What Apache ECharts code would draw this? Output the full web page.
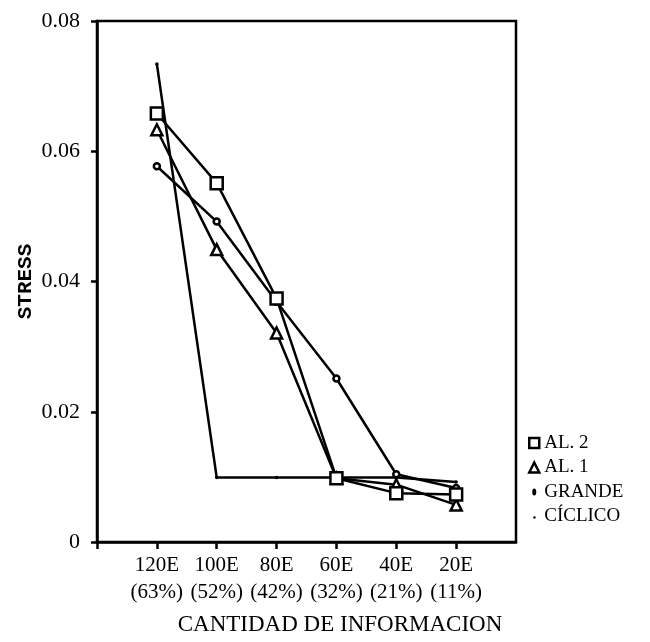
<!DOCTYPE html>
<html>
<head>
<meta charset="utf-8">
<script src="https://cdn.jsdelivr.net/npm/echarts@6/dist/echarts.min.js"></script>
<style>
html,body{margin:0;padding:0;background:#fff;}
#chart{width:650px;height:642px;}
</style>
</head>
<body>
<div id="chart"></div>
<script>
const categories = ['120E', '100E', '80E', '60E', '40E', '20E'];
const percents = ['(63%)', '(52%)', '(42%)', '(32%)', '(21%)', '(11%)'];
const al2 = [0.0658, 0.0551, 0.0374, 0.0098, 0.0075, 0.0073];
const al1 = [0.0633, 0.0449, 0.0321, 0.0098, 0.0088, 0.0057];
const grande = [0.0577, 0.0492, 0.0369, 0.0251, 0.0104, 0.0083];
const ciclico = [0.0734, 0.0099, 0.0099, 0.0099, 0.0099, 0.0092];
const yTicks = [0, 0.02, 0.04, 0.06, 0.08];

const serif = 'Liberation Serif';
const toPairs = arr => arr.map((v, i) => [i + 1, v]);

const chart = echarts.init(document.getElementById('chart'));
const lineBase = {
  type: 'line',
  lineStyle: { color: '#000', width: 2.5 },
  itemStyle: { color: '#fff', borderColor: '#000', borderWidth: 2.5 },
  showAllSymbol: true,
  animation: false,
  emphasis: { disabled: true }
};
chart.setOption({
  backgroundColor: '#fff',
  animation: false,
  grid: { left: 97, right: 134, top: 21, bottom: 100, show: true, borderColor: '#000', borderWidth: 2.5 },
  xAxis: {
    type: 'value', min: 0, max: 7, interval: 1,
    axisLine: { show: true, lineStyle: { color: '#000', width: 2.5 } },
    axisTick: { show: true, length: 7, lineStyle: { color: '#000', width: 2.5 }, customValues: [0, 1, 2, 3, 4, 5, 6] },
    splitLine: { show: false },
    axisLabel: {
      customValues: [1, 2, 3, 4, 5, 6],
      formatter: v => categories[v - 1] + '\n' + percents[v - 1],
      fontFamily: serif, fontSize: 21, color: '#000', lineHeight: 27, margin: 10
    },
    name: 'CANTIDAD DE INFORMACION',
    nameLocation: 'middle', nameGap: 71, nameMoveOverlap: false,
    nameTextStyle: { fontFamily: serif, fontSize: 23, color: '#000', padding: [0, 0, 0, 67] }
  },
  yAxis: {
    type: 'value', min: 0, max: 0.08, interval: 0.02,
    axisLine: { show: true, lineStyle: { color: '#000', width: 2.5 } },
    axisTick: { show: true, length: 6, lineStyle: { color: '#000', width: 2.5 } },
    splitLine: { show: false },
    axisLabel: {
      formatter: v => (v === 0 ? '0' : v.toFixed(2)),
      fontFamily: serif, fontSize: 22, color: '#000', margin: 17
    },
    name: 'STRESS', nameLocation: 'middle', nameGap: 61, nameMoveOverlap: false,
    nameTextStyle: { fontFamily: "'Liberation Mono', monospace", fontWeight: 'bold', fontSize: 21, color: '#000' }
  },
  legend: {
    orient: 'vertical', left: 523, top: 428, itemWidth: 10, itemHeight: 10, itemGap: 4.5,
    selectedMode: false,
    textStyle: { fontFamily: serif, fontSize: 19, color: '#000', lineHeight: 20 },
    data: [
      { name: 'AL. 2', icon: 'rect', itemStyle: { color: '#fff', borderColor: '#000', borderWidth: 2.5 } },
      { name: 'AL. 1', icon: 'triangle', itemStyle: { color: '#fff', borderColor: '#000', borderWidth: 2.5 } },
      { name: 'GRANDE', icon: 'path://M0,0M10,10M3,5a2,3.5 0 1,0 4,0a2,3.5 0 1,0 -4,0z', itemStyle: { color: '#000', borderWidth: 0 } },
      { name: 'CÍCLICO', icon: 'path://M0,0M10,10M4,6a1.2,1.2 0 1,0 2.4,0a1.2,1.2 0 1,0 -2.4,0z', itemStyle: { color: '#000', borderWidth: 0 } }
    ]
  },
  series: [
    Object.assign({}, lineBase, { name: 'CÍCLICO', data: toPairs(ciclico), symbol: 'circle', symbolSize: 3.5,
      itemStyle: { color: '#000', borderColor: '#000', borderWidth: 0 }, z: 2 }),
    Object.assign({}, lineBase, { name: 'GRANDE', data: toPairs(grande), symbol: 'circle', symbolSize: 6, z: 3 }),
    Object.assign({}, lineBase, { name: 'AL. 1', data: toPairs(al1), symbol: 'triangle', symbolSize: 11, z: 4 }),
    Object.assign({}, lineBase, { name: 'AL. 2', data: toPairs(al2), symbol: 'rect', symbolSize: 12, z: 5 })
  ]
});
</script>
</body>
</html>
